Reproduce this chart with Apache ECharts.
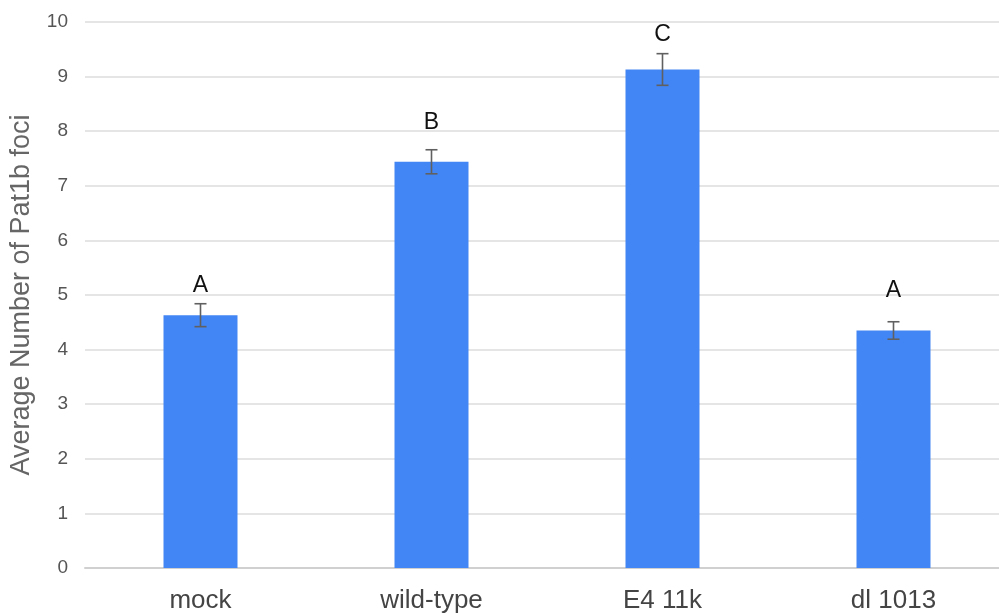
<!DOCTYPE html>
<html>
<head>
<meta charset="utf-8">
<script src="https://cdn.jsdelivr.net/npm/echarts@6/dist/echarts.min.js"></script>
<style>html,body{margin:0;padding:0;background:#fff}#c{width:999px;height:613px}</style>
</head>
<body>
<div id="c"></div>
<script>
var categories = ['mock', 'wild-type', 'E4 11k', 'dl 1013'];
var means = [4.63, 7.44, 9.13, 4.35];
var errors = [0.21, 0.22, 0.29, 0.16];
var letters = ['A', 'B', 'C', 'A'];
var letterLevels = [5.18, 8.16, 9.76, 5.08];
var yTicks = [0, 1, 2, 3, 4, 5, 6, 7, 8, 9, 10];

var chart = echarts.init(document.getElementById('c'));
var errData = means.map(function (m, i) { return [i, m - errors[i], m + errors[i], letters[i], letterLevels[i]]; });

chart.setOption({
  animation: false,
  grid: { left: 85, top: 22, width: 924, bottom: 45, outerBoundsMode: 'none', containLabel: false },
  xAxis: {
    type: 'category',
    data: categories,
    axisTick: { show: false },
    axisLine: { lineStyle: { color: '#d0d0d0', width: 2 } },
    axisLabel: { color: '#444', fontSize: 26, fontFamily: 'Liberation Sans, Arial', margin: 20 }
  },
  yAxis: {
    type: 'value',
    min: 0, max: 10, interval: 1,
    name: 'Average Number of Pat1b foci',
    nameLocation: 'middle',
    nameGap: 50,
    nameTextStyle: { color: '#666', fontSize: 27, fontFamily: 'Liberation Sans, Arial' },
    axisLine: { show: false },
    axisTick: { show: false },
    splitLine: { lineStyle: { color: '#dcdcdc', width: 1.5 } },
    axisLabel: { color: '#555', fontSize: 19, fontFamily: 'Liberation Sans, Arial', margin: 17,
      formatter: function (v) { return yTicks.indexOf(v) >= 0 ? String(v) : ''; } }
  },
  series: [
    {
      type: 'bar',
      data: means,
      barWidth: 74,
      itemStyle: { color: '#4285F4' }
    },
    {
      type: 'custom',
      data: errData,
      z: 10,
      renderItem: function (params, api) {
        var x = api.value(0);
        var lo = api.coord([x, api.value(1)]);
        var hi = api.coord([x, api.value(2)]);
        var lt = api.coord([x, api.value(4)]);
        var hw = 6;
        var st = { stroke: '#606060', lineWidth: 1.6 };
        return {
          type: 'group',
          children: [
            { type: 'line', shape: { x1: lo[0], y1: lo[1], x2: hi[0], y2: hi[1] }, style: st },
            { type: 'line', shape: { x1: lo[0] - hw, y1: lo[1], x2: lo[0] + hw, y2: lo[1] }, style: st },
            { type: 'line', shape: { x1: hi[0] - hw, y1: hi[1], x2: hi[0] + hw, y2: hi[1] }, style: st },
            { type: 'text', style: { text: api.value(3), x: lt[0], y: lt[1], textAlign: 'center', textVerticalAlign: 'middle',
              fill: '#111', fontSize: 23, fontFamily: 'Liberation Sans, Arial' } }
          ]
        };
      }
    }
  ]
});
</script>
</body>
</html>
